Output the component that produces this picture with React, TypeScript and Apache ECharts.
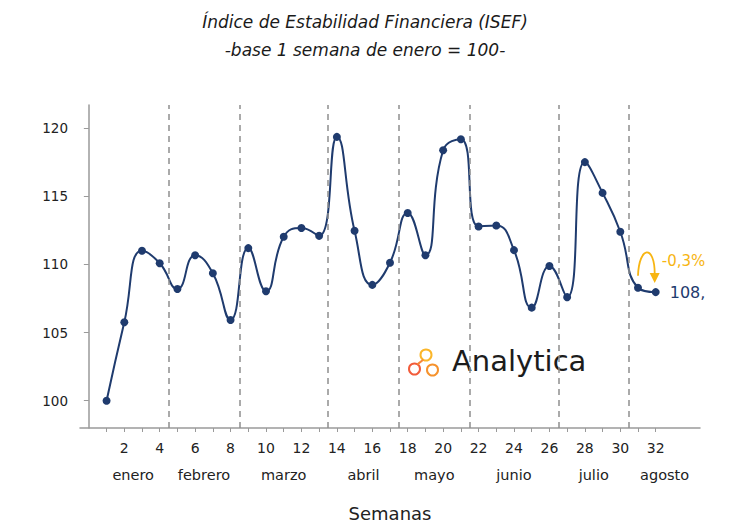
import { useEffect, useRef } from "react"
import * as echarts from "echarts"

// Weekly ISEF index (base week 1 of January = 100)
const weeks = [1, 2, 3, 4, 5, 6, 7, 8, 9, 10, 11, 12, 13, 14, 15, 16, 17, 18, 19, 20, 21, 22, 23, 24, 25, 26, 27, 28, 29, 30, 31, 32]
const isef = [
  100, 105.76, 111.0, 110.09, 108.2, 110.68, 109.35, 105.93, 111.2, 108.04, 112.03, 112.67, 112.1, 119.36, 112.47, 108.5,
  110.13, 113.78, 110.68, 118.38, 119.19, 112.79, 112.86, 111.05, 106.83, 109.89, 107.6, 117.51, 115.25, 112.4, 108.29, 107.97,
]
const weekLabels = [2, 4, 6, 8, 10, 12, 14, 16, 18, 20, 22, 24, 26, 28, 30, 32]
const months = ["enero", "febrero", "marzo", "abril", "mayo", "junio", "julio", "agosto"]
const monthCenters = [2.5, 6.5, 11, 15.5, 19.5, 24, 28.5, 32.5]
const monthBreaks = [4.5, 8.5, 13.5, 17.5, 21.5, 26.5, 30.5]
const yTicks = [100, 105, 110, 115, 120]
const lastLabel = "108,"
const changeLabel = "-0,3%"

const NAVY = "#1f3b6e"
const GOLD = "#f7b512"
const FONT = "'DejaVu Sans', 'Noto Sans', sans-serif"

export default function App() {
  const chartRef = useRef<HTMLDivElement>(null)

  useEffect(() => {
    if (!chartRef.current) return
    const chart = echarts.init(chartRef.current, null, { renderer: "svg" })

    const seriesData = isef.map((v, i) => {
      const point: any = { value: [weeks[i], v] }
      if (i === isef.length - 1) {
        point.label = {
          show: true,
          position: "right",
          distance: 10,
          formatter: lastLabel,
          color: NAVY,
          fontSize: 16,
          fontFamily: FONT,
        }
      }
      return point
    })

    const options: echarts.EChartsOption = {
      animation: false,
      textStyle: { fontFamily: FONT },
      title: {
        text: "Índice de Estabilidad Financiera (ISEF)\n-base 1 semana de enero = 100-",
        left: "center",
        top: 3,
        textStyle: {
          fontSize: 17,
          fontStyle: "italic",
          fontWeight: "normal",
          color: "#1a1a1a",
          lineHeight: 28,
          fontFamily: FONT,
        },
      },
      grid: { left: 80, right: 30, top: 105, bottom: 98 },
      xAxis: [
        {
          type: "value",
          min: -0.5,
          max: 34.5,
          splitLine: { show: false },
          axisLine: { lineStyle: { color: "#9a9a9a", width: 1.5 } },
          axisTick: {
            show: true,
            length: 4,
            customValues: weeks,
            lineStyle: { color: "#9a9a9a" },
          },
          axisLabel: {
            customValues: weekLabels,
            margin: 13,
            fontSize: 14,
            color: "#222",
          },
        },
        {
          type: "value",
          min: -0.5,
          max: 34.5,
          position: "bottom",
          offset: 26,
          splitLine: { show: false },
          axisLine: { show: false },
          axisTick: { show: false },
          axisLabel: {
            customValues: monthCenters,
            margin: 13,
            fontSize: 14.5,
            color: "#222",
            formatter: (v: number) => months[monthCenters.indexOf(v)] ?? "",
          },
          name: "Semanas",
          nameLocation: "middle",
          nameGap: 50,
          nameTextStyle: { fontSize: 18, color: "#222" },
        },
      ],
      yAxis: {
        type: "value",
        min: 98,
        max: 121.7,
        splitLine: { show: false },
        axisLine: { show: true, lineStyle: { color: "#9a9a9a", width: 1.5 } },
        axisTick: { show: true, length: 5, customValues: yTicks, lineStyle: { color: "#9a9a9a" } },
        axisLabel: { customValues: yTicks, margin: 12, fontSize: 13.5, color: "#222" },
      },
      series: [
        {
          name: "ISEF",
          type: "line",
          data: seriesData,
          smooth: 0.5,
          symbol: "circle",
          symbolSize: 8,
          itemStyle: { color: NAVY },
          lineStyle: { color: NAVY, width: 2 },
          markLine: {
            silent: true,
            symbol: "none",
            label: { show: false },
            lineStyle: { color: "#8f8f8f", type: [6, 5], width: 1.5 },
            data: monthBreaks.map((b) => ({ xAxis: b })),
          },
        },
      ],
    }

    chart.setOption(options)

    // Annotation: curved arrow from week 31 to week 32
    const n = isef.length
    const p31 = chart.convertToPixel({ gridIndex: 0 }, [weeks[n - 2], isef[n - 2]]) as number[]
    const p32 = chart.convertToPixel({ gridIndex: 0 }, [weeks[n - 1], isef[n - 1]]) as number[]

    chart.setOption({
      graphic: [
        {
          type: "bezierCurve",
          shape: {
            x1: p31[0],
            y1: p31[1] - 12,
            cpx1: p31[0] + 1,
            cpy1: p31[1] - 42,
            cpx2: p32[0] - 1,
            cpy2: p32[1] - 48,
            x2: p32[0] - 1,
            y2: p32[1] - 18,
          },
          style: { stroke: GOLD, lineWidth: 1.8, fill: "none" },
        },
        {
          type: "polygon",
          shape: {
            points: [
              [p32[0] - 6, p32[1] - 19],
              [p32[0] + 4, p32[1] - 19],
              [p32[0] - 1, p32[1] - 9],
            ],
          },
          style: { fill: GOLD },
        },
        {
          type: "text",
          x: p32[0] + 6,
          y: p32[1] - 31,
          style: {
            text: changeLabel,
            fill: GOLD,
            fontSize: 15,
            fontFamily: FONT,
            verticalAlign: "middle",
          },
        },
        // Analytica watermark
        {
          type: "circle",
          shape: { cx: 426, cy: 355, r: 5.5 },
          style: { stroke: "#fbb62a", lineWidth: 2, fill: "none" },
        },
        {
          type: "circle",
          shape: { cx: 414.5, cy: 369, r: 5.5 },
          style: { stroke: "#f25c3b", lineWidth: 2, fill: "none" },
        },
        {
          type: "circle",
          shape: { cx: 432.5, cy: 370, r: 5.5 },
          style: { stroke: "#f6922c", lineWidth: 2, fill: "none" },
        },
        {
          type: "line",
          shape: { x1: 423.2, y1: 359.8, x2: 417.4, y2: 364.4 },
          style: { stroke: "#f7873a", lineWidth: 2 },
        },
        {
          type: "text",
          x: 452,
          y: 361,
          style: {
            text: "Analytica",
            fill: "#1c1c1c",
            fontSize: 29,
            fontFamily: FONT,
            verticalAlign: "middle",
          },
        },
      ],
    })

    return () => {
      chart.dispose()
    }
  }, [])

  return <div ref={chartRef} style={{ position: "absolute", left: 0, top: 0, width: 730, height: 527 }} />
}
